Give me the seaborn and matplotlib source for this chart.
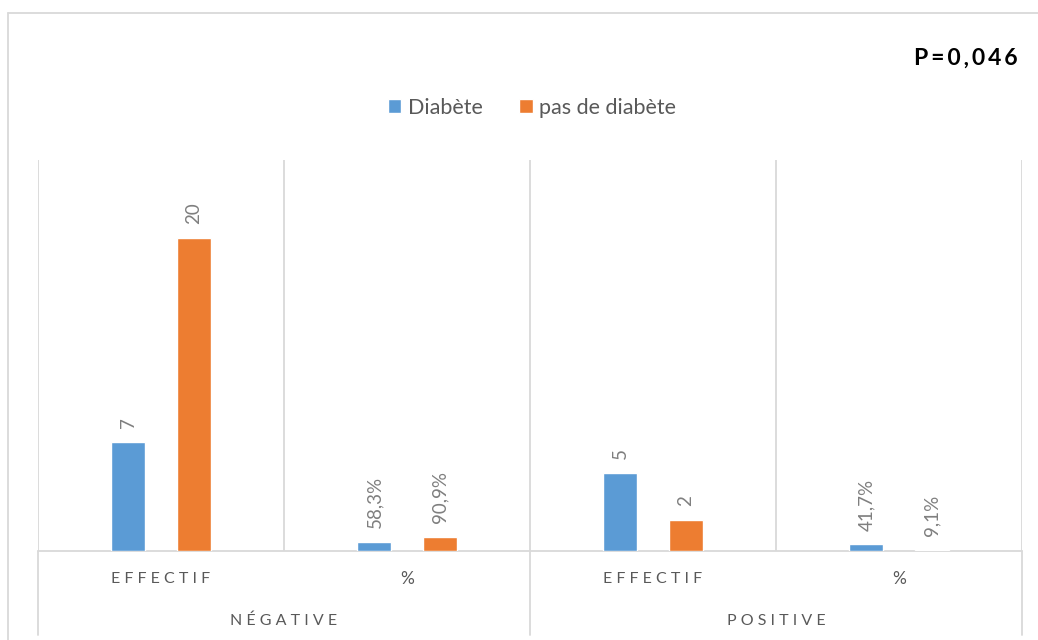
import matplotlib
matplotlib.use("Agg")
import matplotlib.pyplot as plt
from matplotlib.lines import Line2D
from matplotlib.patches import Patch
from matplotlib.transforms import blended_transform_factory
import pandas as pd
import seaborn as sns

# --- data -------------------------------------------------------------
groupes = ["NÉGATIVE", "POSITIVE"]
mesures = ["EFFECTIF", "%"]
series = ["Diabète", "pas de diabète"]
diabete = [7, 0.583, 5, 0.417]
pas_diabete = [20, 0.909, 2, 0.091]
p_valeur = "P=0,046"

BLEU = "#5B9BD5"
ORANGE = "#ED7D31"
GRILLE = "#D9D9D9"
TEXTE = "#595959"
ETIQ = "#7F7F7F"

W, H = 1038, 640

cles = [f"{g}|{m}" for g in groupes for m in mesures]
df = pd.DataFrame({
    "categorie": cles * 2,
    "serie": [series[0]] * 4 + [series[1]] * 4,
    "valeur": diabete + pas_diabete,
})


def etiquette(cle, v):
    if cle.endswith("|%"):
        return f"{v * 100:.1f}%".replace(".", ",")
    return f"{v:g}"


def espace(txt, sep=" "):
    return sep.join(txt)


sns.set_theme(style="white")
plt.rcParams["font.family"] = ["Lato", "DejaVu Sans"]

fig = plt.figure(figsize=(W / 100, H / 100), dpi=100)
ax = fig.add_axes([38 / W, 1 - 551 / H, (1022 - 38) / W, (551 - 160) / H])

sns.barplot(data=df, x="categorie", y="valeur", hue="serie", order=cles,
            hue_order=series, palette=[BLEU, ORANGE], saturation=1,
            width=0.53, gap=0.479, ax=ax, legend=False, errorbar=None)

ax.set_xlim(-0.5, 3.5)
ax.set_ylim(0, 25)
for s in ax.spines.values():
    s.set_visible(False)
ax.set_xticks([])
ax.set_yticks([])
ax.set_xlabel("")
ax.set_ylabel("")

# vertical gridlines and baseline
for x in [-0.5, 0.5, 1.5, 2.5, 3.5]:
    ax.axvline(x, color=GRILLE, lw=1.3, zorder=0)
ax.axhline(0, color=GRILLE, lw=1.3, zorder=0.5, clip_on=False)

# data labels
for cont, vals in zip(ax.containers, [diabete, pas_diabete]):
    ax.bar_label(cont, labels=[etiquette(c, v) for c, v in zip(cles, vals)],
                 rotation=90, padding=10, color=ETIQ, fontsize=13.5)

# multi-level category axis
bt = blended_transform_factory(ax.transData, fig.transFigure)
for x in [-0.5, 1.5, 3.5]:
    fig.add_artist(Line2D([x, x], [1 - 551 / H, 1 - 635 / H], transform=bt,
                          color=GRILLE, lw=1.3))
for i, cle in enumerate(cles):
    m = cle.split("|")[1]
    fig.text(i, 1 - 579 / H, espace(m), transform=bt, ha="center",
             va="center", color=TEXTE, fontsize=11.5 if m != "%" else 12.5)
for j, g in enumerate(groupes):
    fig.text(2 * j + 0.5, 1 - 621 / H, espace(g), transform=bt, ha="center",
             va="center", color=TEXTE, fontsize=11.5)

# legend
handles = [Patch(facecolor=BLEU), Patch(facecolor=ORANGE)]
fig.legend(handles, series, loc="center", bbox_to_anchor=(532 / W, 1 - 108 / H),
           ncol=2, frameon=False, fontsize=15.5, labelcolor=TEXTE,
           handlelength=0.62, handleheight=0.62, handletextpad=0.3,
           columnspacing=1.7)

# p-value
fig.text(1018 / W, 1 - 58 / H, espace(p_valeur, "\u2009"), ha="right",
         va="center", fontsize=16.5, fontweight="bold", color="black")

# chart border
fig.add_artist(Line2D([8 / W, 1], [1 - 13 / H, 1 - 13 / H],
                      transform=fig.transFigure, color=GRILLE, lw=1.3))
fig.add_artist(Line2D([8 / W, 8 / W], [1 - 13 / H, 0],
                      transform=fig.transFigure, color=GRILLE, lw=1.3))

fig.savefig("out.png", dpi=100)
